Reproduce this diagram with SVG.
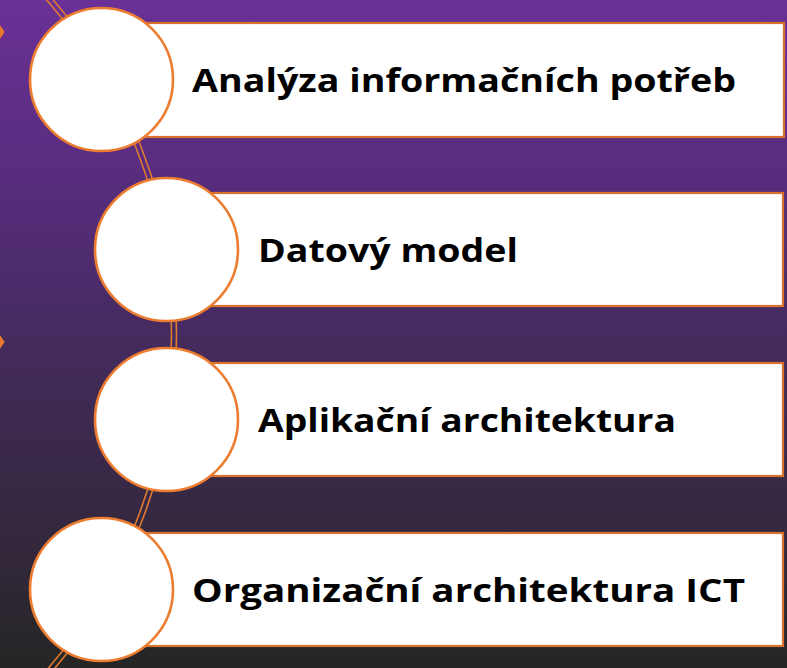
<svg xmlns="http://www.w3.org/2000/svg" width="787" height="668" viewBox="0 0 787 668">
<defs>
<linearGradient id="bg" x1="0" y1="0" x2="0" y2="1">
<stop offset="0" stop-color="#6a3096"/>
<stop offset="0.3" stop-color="#552c7a"/>
<stop offset="0.6" stop-color="#3e2a52"/>
<stop offset="0.82" stop-color="#33283c"/>
<stop offset="1" stop-color="#252525"/>
</linearGradient>
</defs>
<style>
.arc{fill:none;stroke:#e07a30;stroke-width:1.6}
.box{fill:#ffffff;stroke:#d8722c;stroke-width:2.2}
.ring{fill:#ffffff;stroke:#ec7d30;stroke-width:2.6}
.lbl{font-family:"Open Sans","DejaVu Sans",sans-serif;font-weight:700;font-size:32px;fill:#000000}
.chev{fill:#e8792a}
</style>
<rect x="0" y="0" width="787" height="668" fill="url(#bg)"/>
<g id="connectors">
<circle class="arc" cx="-340.5" cy="335" r="512"/>
<circle class="arc" cx="-340.5" cy="335" r="517"/>
</g>
<polygon class="chev" points="0,25 4.7,32 0,39"/>
<polygon class="chev" points="0,335 4.6,342 0,349"/>
<g id="node1">
<rect class="box" x="102" y="23" width="682" height="114"/>
<circle class="ring" cx="101.5" cy="79.5" r="71.5"/>
<text class="lbl" x="192" y="92" textLength="544" lengthAdjust="spacingAndGlyphs">Analýza informačních potřeb</text>
</g>
<g id="node2">
<rect class="box" x="166" y="193" width="617" height="113"/>
<circle class="ring" cx="166.5" cy="249.5" r="71.5"/>
<text class="lbl" x="258" y="262" textLength="260" lengthAdjust="spacingAndGlyphs">Datový model</text>
</g>
<g id="node3">
<rect class="box" x="166" y="363" width="617" height="113"/>
<circle class="ring" cx="166.5" cy="419.5" r="71.5"/>
<text class="lbl" x="258" y="432" textLength="418" lengthAdjust="spacingAndGlyphs">Aplikační architektura</text>
</g>
<g id="node4">
<rect class="box" x="102" y="533" width="681" height="113"/>
<circle class="ring" cx="101.5" cy="589.5" r="71.5"/>
<text class="lbl" x="192" y="602" textLength="553" lengthAdjust="spacingAndGlyphs">Organizační architektura ICT</text>
</g>
</svg>
